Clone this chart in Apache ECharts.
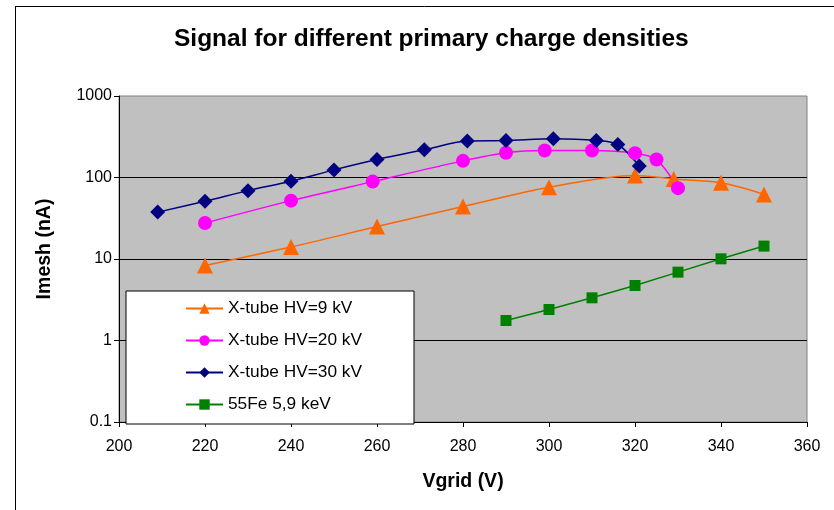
<!DOCTYPE html>
<html>
<head>
<meta charset="utf-8">
<script src="https://cdn.jsdelivr.net/npm/echarts@6/dist/echarts.min.js"></script>
<style>
	html, body { margin: 0; padding: 0; background: #fff; }
	#chart { width: 834px; height: 510px; }
</style>
</head>
<body>
<div id="chart"></div>
<script>
// values
var xTicks = [200, 220, 240, 260, 280, 300, 320, 340, 360];
var yTicks = [0.1, 1, 10, 100, 1000];

var hv9X = [220, 240, 260, 280, 300, 320, 329, 340, 350];
var hv9Y = [8.3, 14, 25, 44, 76, 106, 96, 86, 62];

var hv20X = [220, 240, 259, 280, 290, 299, 310, 320, 325, 330];
var hv20Y = [27.6, 52, 89, 160, 201, 214, 214, 199, 166, 74];

var hv30X = [209, 220, 230, 240, 250, 260, 271, 281, 290, 301, 311, 316, 321];
var hv30Y = [37.6, 51, 69, 90, 124, 166, 219, 280, 284, 298, 284, 254, 138];

var feX = [290, 300, 310, 320, 330, 340, 350];
var feY = [1.76, 2.4, 3.34, 4.73, 6.9, 10.05, 14.4];

var seriesNames = ["X-tube HV=9 kV", "X-tube HV=20 kV", "X-tube HV=30 kV", "55Fe 5,9 keV"];

var font = "Arial, 'Liberation Sans', sans-serif";

function pairs(xs, ys) {
	return xs.map(function(x, i) {
		return [x, ys[i]];
	});
}

var chart = echarts.init(document.getElementById("chart"));
var option = {
	animation: false,
	textStyle: { fontFamily: font, color: "#000" },
	title: {
		text: "Signal for different primary charge densities",
		left: 169,
		top: 22,
		textStyle: { fontFamily: font, fontSize: 24.5, fontWeight: "bold", color: "#000" }
	},
	graphic: [
		// outer chart frame (left and top edges are visible)
		{ type: "line", shape: { x1: 15.5, y1: 6, x2: 15.5, y2: 510 }, style: { stroke: "#000", lineWidth: 1 } },
		{ type: "line", shape: { x1: 15.5, y1: 6.5, x2: 834, y2: 6.5 }, style: { stroke: "#000", lineWidth: 1 } }
	],
	grid: {
		left: 119,
		right: 27,
		top: 96,
		bottom: 88,
		show: true,
		backgroundColor: "#c0c0c0",
		borderColor: "#808080",
		borderWidth: 1
	},
	legend: {
		orient: "vertical",
		left: 126,
		top: 291,
		data: seriesNames,
		backgroundColor: "#fff",
		borderColor: "#000",
		borderWidth: 1,
		padding: [9, 52, 11, 59],
		itemWidth: 37,
		itemHeight: 13,
		itemGap: 15,
		textStyle: { fontFamily: font, fontSize: 17.3, color: "#000" }
	},
	xAxis: {
		type: "value",
		min: xTicks[0],
		max: xTicks[xTicks.length - 1],
		interval: 20,
		name: "Vgrid (V)",
		nameLocation: "middle",
		nameGap: 50,
		nameTextStyle: { fontFamily: font, fontSize: 19.5, fontWeight: "bold", color: "#000" },
		axisLine: { show: true, lineStyle: { color: "#000", width: 1 } },
		axisTick: { show: true, length: 5, lineStyle: { color: "#000" } },
		axisLabel: { fontFamily: font, fontSize: 16, color: "#000", margin: 17 },
		splitLine: { show: false }
	},
	yAxis: {
		type: "log",
		logBase: 10,
		min: yTicks[0],
		max: yTicks[yTicks.length - 1],
		name: "Imesh (nA)",
		nameLocation: "middle",
		nameGap: 64,
		nameTextStyle: { fontFamily: font, fontSize: 19.5, fontWeight: "bold", color: "#000", padding: [0, 0, 0, 20] },
		axisLine: { show: true, lineStyle: { color: "#000", width: 1 } },
		axisTick: { show: true, length: 5, lineStyle: { color: "#000" } },
		axisLabel: {
			fontFamily: font, fontSize: 16, color: "#000", margin: 7,
			formatter: function(v) {
				return v < 1 ? v.toFixed(1) : String(Math.round(v));
			}
		},
		splitLine: { show: true, showMinLine: false, showMaxLine: false, lineStyle: { color: "#000", width: 1 } }
	},
	series: [
		{
			name: seriesNames[0],
			type: "line",
			data: pairs(hv9X, hv9Y),
			smooth: 0.3,
			symbol: "triangle",
			symbolSize: 16,
			itemStyle: { color: "#ff6600" },
			lineStyle: { color: "#ff6600", width: 1.5 }
		},
		{
			name: seriesNames[1],
			type: "line",
			data: pairs(hv20X, hv20Y),
			smooth: 0.3,
			symbol: "circle",
			symbolSize: 14,
			itemStyle: { color: "#ff00ff" },
			lineStyle: { color: "#ff00ff", width: 1.5 }
		},
		{
			name: seriesNames[2],
			type: "line",
			data: pairs(hv30X, hv30Y),
			smooth: 0.3,
			symbol: "diamond",
			symbolSize: 15,
			itemStyle: { color: "#000080" },
			lineStyle: { color: "#000080", width: 1.5 }
		},
		{
			name: seriesNames[3],
			type: "line",
			data: pairs(feX, feY),
			symbol: "rect",
			symbolSize: 11,
			itemStyle: { color: "#008000" },
			lineStyle: { color: "#008000", width: 1.5 }
		}
	]
};
chart.setOption(option);
</script>
</body>
</html>
